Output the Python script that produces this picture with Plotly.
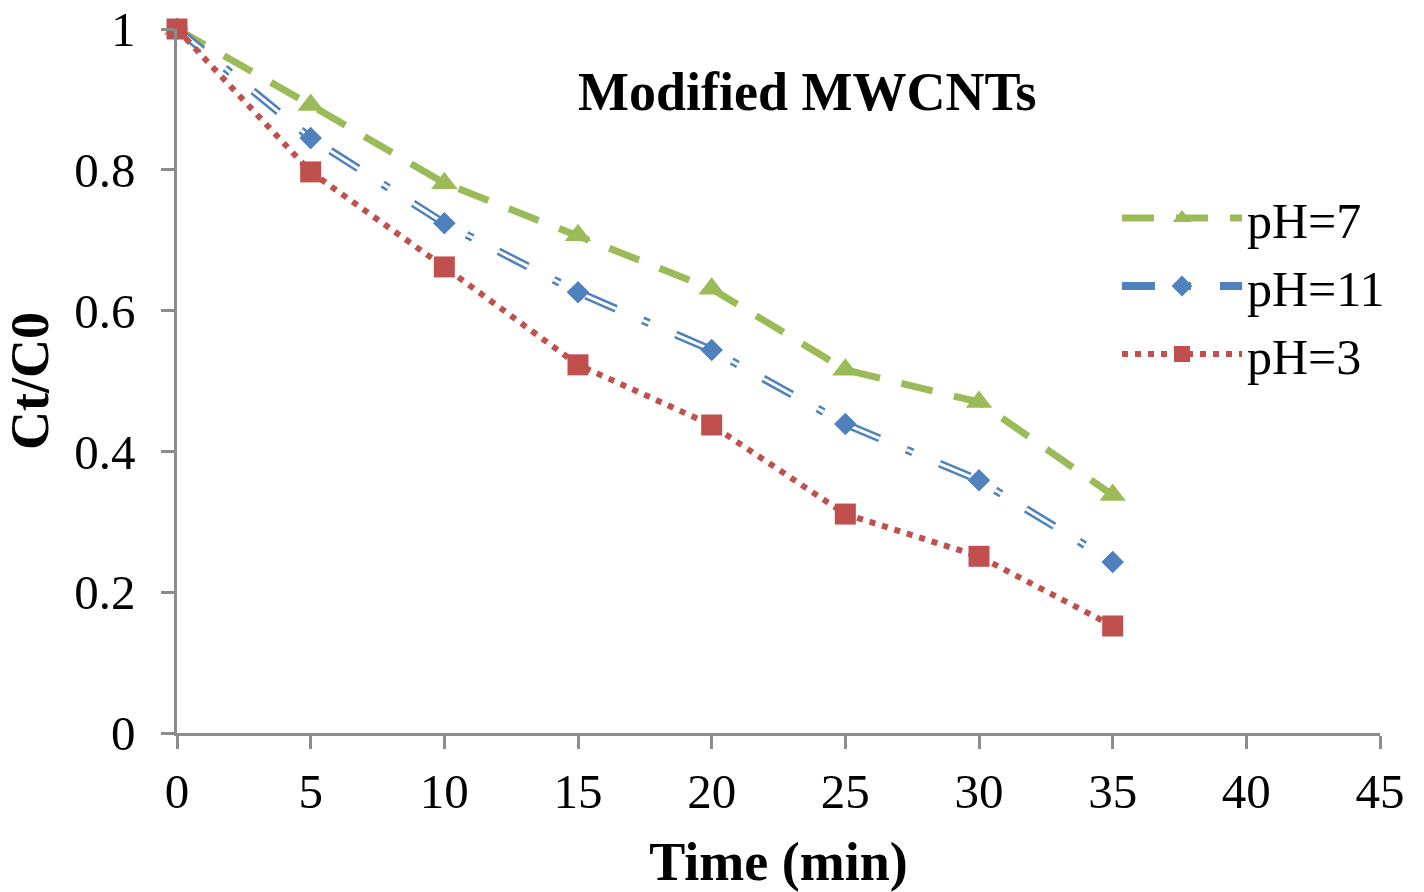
import plotly.graph_objects as go

time_min = [0, 5, 10, 15, 20, 25, 30, 35]
ph7 = [1.0, 0.892, 0.781, 0.707, 0.631, 0.516, 0.470, 0.338]
ph11 = [1.0, 0.845, 0.724, 0.626, 0.544, 0.439, 0.359, 0.243]
ph3 = [1.0, 0.797, 0.662, 0.523, 0.4375, 0.311, 0.251, 0.152]

x_ticks = [0, 5, 10, 15, 20, 25, 30, 35, 40, 45]
y_ticks = [0, 0.2, 0.4, 0.6, 0.8, 1.0]
y_tick_labels = ["0", "0.2", "0.4", "0.6", "0.8", "1"]

GREEN = "#9BBB59"
BLUE = "#4F81BD"
RED = "#C0504D"
FONT = "Liberation Serif"

fig = go.Figure()

blue_dash = "33px,29px,7px,29px"

fig.add_trace(go.Scatter(
    x=time_min, y=ph7, name="pH=7", mode="lines+markers",
    line=dict(color=GREEN, width=7, dash="32px,22px"),
    marker=dict(symbol="triangle-up", size=23, color=GREEN),
    cliponaxis=False,
))
fig.add_trace(go.Scatter(
    x=time_min, y=ph11, name="pH=11", mode="lines+markers",
    line=dict(color=BLUE, width=8, dash=blue_dash),
    marker=dict(symbol="diamond", size=17, color=BLUE),
    cliponaxis=False, legendgroup="b",
))
fig.add_trace(go.Scatter(
    x=time_min, y=ph11, name="pH=11", mode="lines",
    line=dict(color="white", width=3, dash=blue_dash),
    showlegend=False, hoverinfo="skip", cliponaxis=False, legendgroup="b",
))
fig.add_trace(go.Scatter(
    x=time_min, y=ph11, name="pH=11", mode="markers",
    marker=dict(symbol="diamond", size=17, color=BLUE),
    showlegend=False, cliponaxis=False, legendgroup="b",
))
fig.add_trace(go.Scatter(
    x=time_min, y=ph3, name="pH=3", mode="lines+markers",
    line=dict(color=RED, width=6, dash="6px,7px"),
    marker=dict(symbol="square", size=21, color=RED),
    cliponaxis=False,
))

axis_common = dict(
    showgrid=False, zeroline=False, showline=True, automargin=False,
    linecolor="#8c8c8c", linewidth=2.5,
    ticks="outside", ticklen=13, tickwidth=2.5, tickcolor="#8c8c8c",
    tickfont=dict(family=FONT, size=49, color="black"),
)

L, R, T, B = 177, 44, 29, 159
W, H = 1424, 892
plot_w = W - L - R
plot_h = H - T - B

fig.update_layout(
    width=W, height=H,
    paper_bgcolor="white", plot_bgcolor="white",
    margin=dict(l=L, r=R, t=T, b=B),
    showlegend=True,
    legend=dict(
        x=(1117 - L) / plot_w, y=(H - B - 179) / plot_h, xanchor="left", yanchor="top",
        font=dict(family=FONT, size=50, color="black"),
        bgcolor="rgba(0,0,0,0)", tracegroupgap=0, itemwidth=120,
    ),
    xaxis=dict(
        range=[0, 45], tickvals=x_ticks, ticktext=[str(v) for v in x_ticks],
        title=dict(text="<b>Time (min)</b>", font=dict(family=FONT, size=54, color="black"), standoff=40),
        **axis_common,
    ),
    yaxis=dict(
        range=[0, 1], tickvals=y_ticks, ticktext=y_tick_labels, ticklabelstandoff=16,
        title=dict(text="<b>Ct/C0</b>", font=dict(family=FONT, size=54, color="black"), standoff=42),
        **axis_common,
    ),
    annotations=[dict(
        text="<b>Modified MWCNTs</b>",
        x=(807 - L) / plot_w, y=(H - B - 92) / plot_h,
        xref="paper", yref="paper", xanchor="center", yanchor="middle",
        showarrow=False, font=dict(family=FONT, size=54, color="black"),
    )],
)

fig.write_html("out.html", config={"displayModeBar": False},
               post_script="document.body.style.margin='0';")
